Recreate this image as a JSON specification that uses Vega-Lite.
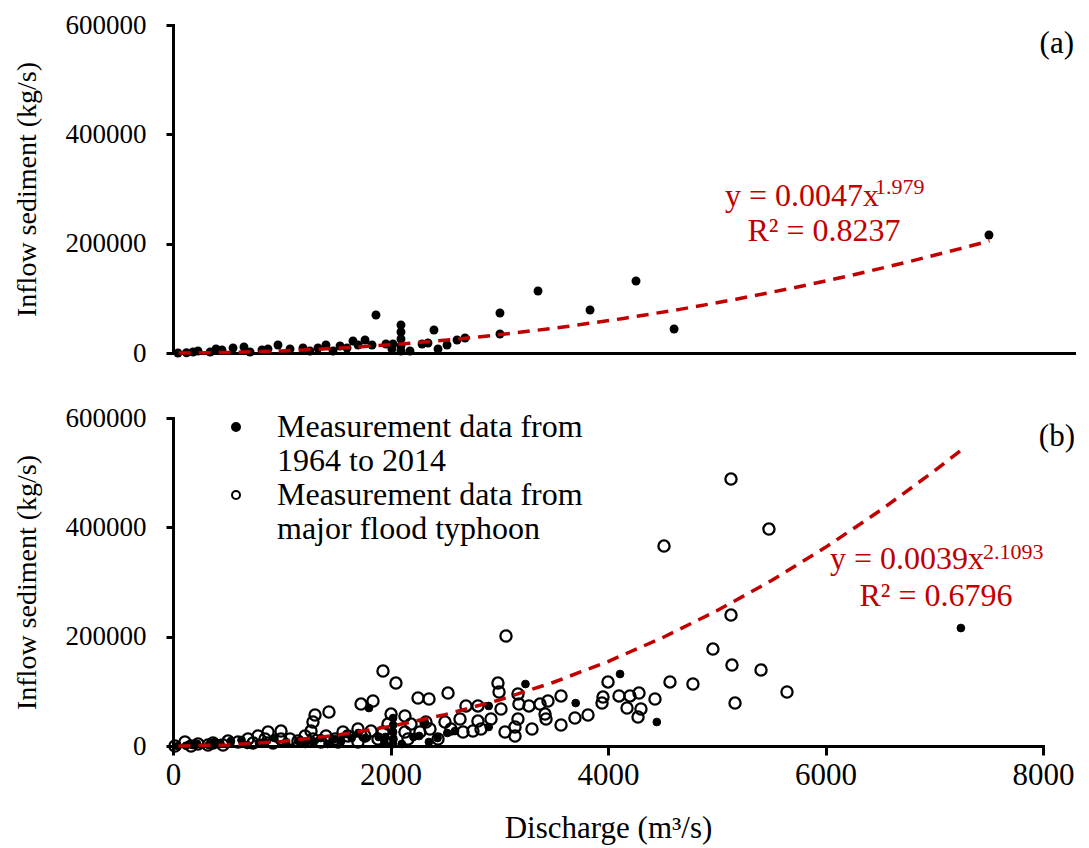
{
  "$schema": "https://vega.github.io/schema/vega-lite/v6.json",
  "background": "white",
  "padding": {"left": 13, "top": 11, "right": 4, "bottom": 2},
  "spacing": 38,
  "config": {
    "font": "Liberation Serif",
    "view": {"stroke": null},
    "axis": {"labelFont": "Liberation Serif", "titleFont": "Liberation Serif", "labelColor": "black", "titleColor": "black", "titleFontWeight": "normal", "domainColor": "black", "tickColor": "black", "domainWidth": 3, "tickWidth": 3, "grid": false, "labelFlush": false, "domainCap": "square"},
    "axisY": {"labelFont": "Liberation Serif", "titleFont": "Liberation Serif", "labelFontSize": 27, "titleFontSize": 28, "tickSize": 7, "labelPadding": 20, "titlePadding": 24},
    "axisX": {"labelFont": "Liberation Serif", "titleFont": "Liberation Serif", "labelFontSize": 31, "titleFontSize": 31, "tickSize": 9, "labelPadding": 5, "titlePadding": 23}
  },
  "datasets": {
    "measured": [
      {"q": 44, "s": 0}, {"q": 120, "s": 500}, {"q": 178, "s": 1800}, {"q": 222, "s": 3700}, {"q": 330, "s": 1800}, {"q": 382, "s": 7300},
      {"q": 435, "s": 5500}, {"q": 533, "s": 9100}, {"q": 630, "s": 11000}, {"q": 684, "s": 1800}, {"q": 790, "s": 5500}, {"q": 843, "s": 7300},
      {"q": 932, "s": 14600}, {"q": 1039, "s": 7300}, {"q": 1154, "s": 9100}, {"q": 1216, "s": 3700}, {"q": 1287, "s": 9100}, {"q": 1358, "s": 14600},
      {"q": 1421, "s": 3700}, {"q": 1483, "s": 12800}, {"q": 1545, "s": 9100}, {"q": 1598, "s": 22000}, {"q": 1643, "s": 14600}, {"q": 1705, "s": 23800},
      {"q": 1767, "s": 14600}, {"q": 1802, "s": 69500}, {"q": 1891, "s": 16500}, {"q": 1944, "s": 7300}, {"q": 1953, "s": 16500}, {"q": 2024, "s": 51200},
      {"q": 2024, "s": 38400}, {"q": 2024, "s": 25600}, {"q": 2024, "s": 12800}, {"q": 2024, "s": 3700}, {"q": 2104, "s": 3700}, {"q": 2211, "s": 16500},
      {"q": 2264, "s": 18300}, {"q": 2317, "s": 42100}, {"q": 2353, "s": 7300}, {"q": 2433, "s": 14600}, {"q": 2522, "s": 23800}, {"q": 2593, "s": 27400},
      {"q": 2903, "s": 73200}, {"q": 2903, "s": 34800}, {"q": 3241, "s": 113400}, {"q": 3703, "s": 78600}, {"q": 4111, "s": 131700}, {"q": 4449, "s": 43900},
      {"q": 7245, "s": 215800}
    ],
    "typhoon": [
      {"q": 5131, "s": 488300}, {"q": 5480, "s": 396900}, {"q": 4515, "s": 365800}, {"q": 3062, "s": 201200}, {"q": 5131, "s": 239600}, {"q": 4965, "s": 177400},
      {"q": 5140, "s": 148100}, {"q": 5407, "s": 139000}, {"q": 5646, "s": 98800}, {"q": 5168, "s": 78600}, {"q": 4781, "s": 113400}, {"q": 4570, "s": 117100},
      {"q": 4432, "s": 86000}, {"q": 4303, "s": 67700}, {"q": 4276, "s": 53000}, {"q": 4175, "s": 69500}, {"q": 4202, "s": 91500}, {"q": 4285, "s": 96900},
      {"q": 4101, "s": 91500}, {"q": 4000, "s": 117100}, {"q": 3954, "s": 89600}, {"q": 3945, "s": 78600}, {"q": 1931, "s": 137200}, {"q": 2050, "s": 115200},
      {"q": 1729, "s": 76800}, {"q": 1839, "s": 82300}, {"q": 1434, "s": 62200}, {"q": 1306, "s": 56700}, {"q": 1287, "s": 43900}, {"q": 1269, "s": 27400},
      {"q": 2253, "s": 87800}, {"q": 2354, "s": 86000}, {"q": 2529, "s": 96900}, {"q": 2988, "s": 115200}, {"q": 2998, "s": 98800}, {"q": 3172, "s": 95100},
      {"q": 3181, "s": 76800}, {"q": 3273, "s": 73200}, {"q": 3375, "s": 76800}, {"q": 3448, "s": 82300}, {"q": 3568, "s": 91500}, {"q": 3696, "s": 51200},
      {"q": 3816, "s": 56700}, {"q": 3421, "s": 58500}, {"q": 3430, "s": 49400}, {"q": 3568, "s": 38400}, {"q": 3301, "s": 31100}, {"q": 3172, "s": 49400},
      {"q": 3145, "s": 34800}, {"q": 3145, "s": 18300}, {"q": 3016, "s": 67700}, {"q": 2924, "s": 49400}, {"q": 2804, "s": 73200}, {"q": 2804, "s": 45700},
      {"q": 2832, "s": 31100}, {"q": 2694, "s": 73200}, {"q": 2639, "s": 49400}, {"q": 2758, "s": 27400}, {"q": 2667, "s": 25600}, {"q": 2556, "s": 31100},
      {"q": 2501, "s": 43900}, {"q": 2326, "s": 43900}, {"q": 2363, "s": 31100}, {"q": 2271, "s": 25600}, {"q": 2188, "s": 40200}, {"q": 2133, "s": 54900},
      {"q": 2133, "s": 25600}, {"q": 2005, "s": 58500}, {"q": 1977, "s": 40200}, {"q": 1931, "s": 25600}, {"q": 2005, "s": 12800}, {"q": 1821, "s": 27400},
      {"q": 1765, "s": 18300}, {"q": 1701, "s": 31100}, {"q": 1609, "s": 18300}, {"q": 1563, "s": 25600}, {"q": 1490, "s": 12800}, {"q": 1407, "s": 18300},
      {"q": 1361, "s": 7300}, {"q": 1287, "s": 12800}, {"q": 1214, "s": 18300}, {"q": 1149, "s": 9100}, {"q": 1076, "s": 12800}, {"q": 993, "s": 27400},
      {"q": 993, "s": 12800}, {"q": 874, "s": 25600}, {"q": 846, "s": 12800}, {"q": 782, "s": 18300}, {"q": 690, "s": 12800}, {"q": 598, "s": 7300},
      {"q": 506, "s": 9100}, {"q": 460, "s": 1800}, {"q": 322, "s": 1800}, {"q": 166, "s": 0}, {"q": 110, "s": 7300}, {"q": 18, "s": 0},
      {"q": 1517, "s": 7300}, {"q": 1701, "s": 7300}, {"q": 1885, "s": 12800}, {"q": 2161, "s": 12800}, {"q": 2437, "s": 12800}, {"q": 3053, "s": 25600},
      {"q": 230, "s": 3700}, {"q": 368, "s": 5500}, {"q": 736, "s": 5500}, {"q": 920, "s": 5500}
    ],
    "fitA": [
      {"q": 50, "s": 11}, {"q": 100, "s": 43}, {"q": 500, "s": 1032}, {"q": 1000, "s": 4064}, {"q": 1500, "s": 9070}, {"q": 2000, "s": 16030},
      {"q": 2500, "s": 24930}, {"q": 3000, "s": 35780}, {"q": 3500, "s": 48540}, {"q": 4000, "s": 63220}, {"q": 4500, "s": 79810},
      {"q": 5000, "s": 98330}, {"q": 5500, "s": 118700}, {"q": 6000, "s": 141000}, {"q": 6500, "s": 165300}, {"q": 7000, "s": 191400}, {"q": 7250, "s": 205100}
    ],
    "fitB": [
      {"q": 50, "s": 15}, {"q": 100, "s": 65}, {"q": 500, "s": 1922}, {"q": 1000, "s": 8300}, {"q": 1500, "s": 19520}, {"q": 2000, "s": 35820},
      {"q": 2500, "s": 57320}, {"q": 3000, "s": 84230}, {"q": 3500, "s": 116600}, {"q": 4000, "s": 154500}, {"q": 4500, "s": 198000},
      {"q": 5000, "s": 247300}, {"q": 5500, "s": 302300}, {"q": 6000, "s": 363400}, {"q": 6500, "s": 430300}, {"q": 7000, "s": 502900}, {"q": 7250, "s": 541600}
    ],
    "one": [{}]
  },
  "vconcat": [
    {
      "width": 901,
      "height": 328,
      "layer": [
        {
          "data": {"name": "measured"},
          "mark": {"type": "circle", "color": "black", "size": 80, "opacity": 1},
          "encoding": {
            "x": {"field": "q", "type": "quantitative", "scale": {"domain": [0, 8000], "nice": false}, "axis": {"labels": false, "ticks": false, "title": null}},
            "y": {"field": "s", "type": "quantitative", "scale": {"domain": [0, 600000], "nice": false}, "axis": {"values": [0, 200000, 400000, 600000], "format": "d", "title": "Inflow sediment (kg/s)", "labelFont": "Liberation Serif", "titleFont": "Liberation Serif"}}
          }
        },
        {
          "data": {"name": "fitA"},
          "mark": {"type": "line", "color": "#C00000", "strokeWidth": 3.5, "strokeDash": [12, 8]},
          "encoding": {
            "x": {"field": "q", "type": "quantitative"},
            "y": {"field": "s", "type": "quantitative"}
          }
        },
        {
          "data": {"name": "one"},
          "mark": {"type": "text", "text": "y = 0.0047x", "align": "left", "baseline": "middle", "fontSize": 32, "color": "#C00000", "font": "Liberation Serif"},
          "encoding": {"x": {"datum": 4901, "type": "quantitative"}, "y": {"datum": 287200, "type": "quantitative"}}
        },
        {
          "data": {"name": "one"},
          "mark": {"type": "text", "text": "1.979", "align": "left", "baseline": "middle", "fontSize": 22, "color": "#C00000", "font": "Liberation Serif"},
          "encoding": {"x": {"datum": 6233, "type": "quantitative"}, "y": {"datum": 303600, "type": "quantitative"}}
        },
        {
          "data": {"name": "one"},
          "mark": {"type": "text", "text": "R² = 0.8237", "align": "center", "baseline": "middle", "fontSize": 32, "color": "#C00000", "font": "Liberation Serif"},
          "encoding": {"x": {"datum": 5780, "type": "quantitative"}, "y": {"datum": 223100, "type": "quantitative"}}
        },
        {
          "data": {"name": "one"},
          "mark": {"type": "text", "text": "(a)", "align": "right", "baseline": "middle", "fontSize": 31, "color": "black", "font": "Liberation Serif"},
          "encoding": {"x": {"datum": 8000, "type": "quantitative"}, "y": {"datum": 565000, "type": "quantitative"}}
        }
      ]
    },
    {
      "width": 870,
      "height": 328,
      "layer": [
        {
          "data": {"name": "measured"},
          "mark": {"type": "point", "shape": "circle", "filled": true, "stroke": "black", "strokeWidth": 1, "size": 60, "opacity": 1},
          "encoding": {
            "x": {"field": "q", "type": "quantitative", "scale": {"domain": [0, 8000], "nice": false}, "axis": {"values": [0, 2000, 4000, 6000, 8000], "format": "d", "title": "Discharge (m³/s)", "labelFont": "Liberation Serif", "titleFont": "Liberation Serif"}},
            "y": {"field": "s", "type": "quantitative", "scale": {"domain": [0, 600000], "nice": false}, "axis": {"values": [0, 200000, 400000, 600000], "format": "d", "title": "Inflow sediment (kg/s)", "labelFont": "Liberation Serif", "titleFont": "Liberation Serif"}},
            "fill": {
              "datum": "Measurement data from|1964 to 2014",
              "type": "nominal",
              "scale": {"domain": ["Measurement data from|1964 to 2014", "Measurement data from|major flood typhoon"], "range": ["black", "rgba(0,0,0,0)"]},
              "legend": {"title": null, "orient": "none", "legendX": 47, "legendY": 386, "labelExpr": "split(datum.label, '|')", "labelFont": "Liberation Serif", "labelFontSize": 32, "labelColor": "black", "labelLimit": 0, "labelOffset": 25, "symbolSize": 64, "symbolType": "circle", "symbolStrokeColor": "black", "symbolStrokeWidth": 2, "rowPadding": 2, "labelBaseline": "middle"}
            }
          }
        },
        {
          "data": {"name": "typhoon"},
          "mark": {"type": "point", "shape": "circle", "filled": true, "stroke": "black", "strokeWidth": 2.3, "size": 125, "opacity": 1},
          "encoding": {
            "x": {"field": "q", "type": "quantitative"},
            "y": {"field": "s", "type": "quantitative"},
            "fill": {"datum": "Measurement data from|major flood typhoon", "type": "nominal"}
          }
        },
        {
          "data": {"name": "fitB"},
          "mark": {"type": "line", "color": "#C00000", "strokeWidth": 3.5, "strokeDash": [12, 8]},
          "encoding": {
            "x": {"field": "q", "type": "quantitative"},
            "y": {"field": "s", "type": "quantitative"}
          }
        },
        {
          "data": {"name": "one"},
          "mark": {"type": "text", "text": "y = 0.0039x", "align": "left", "baseline": "middle", "fontSize": 32, "color": "#C00000", "font": "Liberation Serif"},
          "encoding": {"x": {"datum": 6041, "type": "quantitative"}, "y": {"datum": 342000, "type": "quantitative"}}
        },
        {
          "data": {"name": "one"},
          "mark": {"type": "text", "text": "2.1093", "align": "left", "baseline": "middle", "fontSize": 22, "color": "#C00000", "font": "Liberation Serif"},
          "encoding": {"x": {"datum": 7448, "type": "quantitative"}, "y": {"datum": 354800, "type": "quantitative"}}
        },
        {
          "data": {"name": "one"},
          "mark": {"type": "text", "text": "R² = 0.6796", "align": "center", "baseline": "middle", "fontSize": 32, "color": "#C00000", "font": "Liberation Serif"},
          "encoding": {"x": {"datum": 7016, "type": "quantitative"}, "y": {"datum": 274400, "type": "quantitative"}}
        },
        {
          "data": {"name": "one"},
          "mark": {"type": "text", "text": "(b)", "align": "right", "baseline": "middle", "fontSize": 31, "color": "black", "font": "Liberation Serif"},
          "encoding": {"x": {"datum": 8294, "type": "quantitative"}, "y": {"datum": 565000, "type": "quantitative"}}
        }
      ]
    }
  ]
}
